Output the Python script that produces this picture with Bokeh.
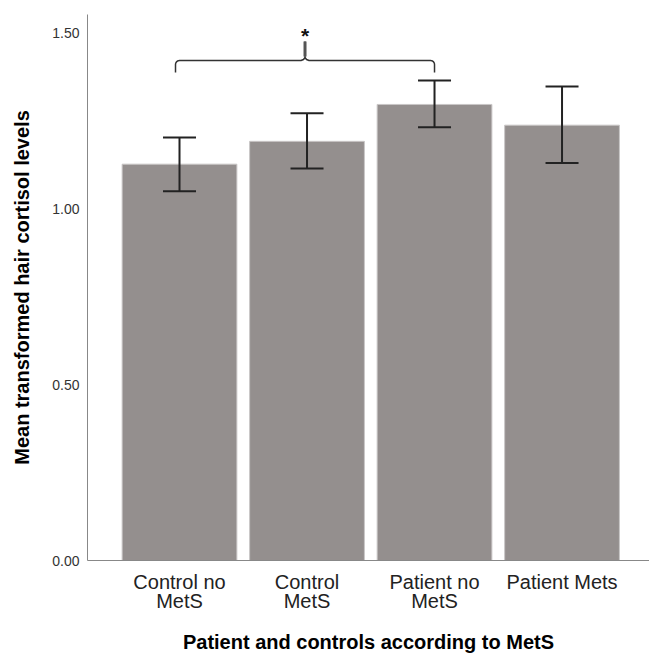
from bokeh.plotting import figure
from bokeh.models import Range1d, FixedTicker, Whisker, ColumnDataSource, TeeHead
from bokeh.embed import file_html
from bokeh.resources import INLINE

# Group means of transformed hair cortisol with 95% CI limits
groups = ["Control no\nMetS", "Control\nMetS", "Patient no\nMetS", "Patient Mets"]
means = [1.128, 1.193, 1.298, 1.239]
ci_lower = [1.051, 1.116, 1.233, 1.131]
ci_upper = [1.204, 1.273, 1.366, 1.349]

y_ticks = [0.0, 0.5, 1.0, 1.5]
y_tick_labels = ["0.00", "0.50", "1.00", "1.50"]

# significant comparison (group indices) and its marker
sig_pair = (0, 2)
sig_mark = "*"

FONT = "Liberation Sans"
BAR_COLOR = "#948f8e"

xpos = [i + 0.5 for i in range(len(groups))]

p = figure(width=649, height=655, output_backend="svg", toolbar_location=None,
           x_range=Range1d(-0.2216, 4.186), y_range=Range1d(0, 1.554),
           min_border_left=87, min_border_right=0, min_border_top=14,
           min_border_bottom=94)
p.outline_line_color = None
p.xgrid.visible = False
p.ygrid.visible = False
p.background_fill_color = "white"
p.border_fill_color = "white"

src = ColumnDataSource(dict(x=xpos, top=means, lower=ci_lower, upper=ci_upper))

p.vbar(x="x", top="top", bottom=0, width=0.9, source=src,
       fill_color=BAR_COLOR, line_color="#c9c6c6", line_width=1)

err_color = "#222222"
p.add_layout(Whisker(base="x", lower="lower", upper="upper", source=src,
                     level="overlay", line_color=err_color, line_width=2,
                     upper_head=TeeHead(size=33, line_color=err_color, line_width=2),
                     lower_head=TeeHead(size=33, line_color=err_color, line_width=2)))

# curly bracket over the compared groups
px_x = 1 / 127.5   # data units per pixel, horizontal
px_y = 1 / 352.0   # data units per pixel, vertical
x0 = xpos[sig_pair[0]] - 4 * px_x
x1 = xpos[sig_pair[1]]
xc = (x0 + x1) / 2
top_ci = max(ci_upper[sig_pair[0]:sig_pair[1] + 1])
y_line = top_ci + 0.057
y_end = y_line - 12 * px_y
y_nub = y_line + 19 * px_y
r = 4  # corner radius in pixels


def corner(cx, cy, sx, sy, n=6):
    # quarter-round from vertical to horizontal around (cx, cy)
    import math
    pts = []
    for k in range(n + 1):
        t = k / n * (math.pi / 2)
        pts.append((cx + sx * r * (1 - math.cos(t)) * px_x,
                    cy + sy * r * (1 - math.sin(t)) * px_y))
    return pts


left_corner = corner(x0, y_line, 1, -1)
right_corner = corner(x1, y_line, -1, -1)[::-1]
nub_in = [(xc - r * px_x, y_line), (xc - 1.5 * px_x, y_line + 1 * px_y),
          (xc, y_line + 3 * px_y), (xc, y_nub)]
nub_out = [(xc, y_nub), (xc, y_line + 3 * px_y), (xc + 1.5 * px_x, y_line + 1 * px_y),
           (xc + r * px_x, y_line)]

path = [(x0, y_end)] + left_corner + nub_in + nub_out + right_corner + [(x1, y_end)]
p.line([q[0] for q in path], [q[1] for q in path], line_color="#333333", line_width=1.5)
p.line([xc, xc], [y_line + 4 * px_y, y_nub], line_color="#555555", line_width=3)

p.text(x=[xc], y=[y_nub - 5 * px_y], text=[sig_mark], text_align="center",
       text_baseline="bottom", text_font_size="21px", text_font_style="bold",
       text_color="#111111", text_font={"value": FONT})

# axes
p.yaxis.ticker = FixedTicker(ticks=y_ticks)
p.yaxis.major_label_overrides = {t: l for t, l in zip(y_ticks, y_tick_labels)}
p.xaxis.ticker = FixedTicker(ticks=xpos)
p.xaxis.major_label_overrides = {t: g for t, g in zip(xpos, groups)}

for ax in (p.xaxis[0], p.yaxis[0]):
    ax.axis_line_color = "#888888"
    ax.axis_line_width = 1
    ax.major_tick_line_color = None
    ax.minor_tick_line_color = None
    ax.major_tick_out = 0
    ax.major_tick_in = 0
    ax.major_label_text_font = FONT
    ax.axis_label_text_font = FONT
    ax.axis_label_text_font_style = "bold"
    ax.axis_label_text_font_size = "20px"
    ax.axis_label_text_color = "#000000"

p.yaxis.major_label_text_font_size = "14px"
p.yaxis.major_label_text_color = "#333333"
p.yaxis.major_label_standoff = 8
p.yaxis.axis_label = "Mean transformed hair cortisol levels"
p.yaxis.axis_label_standoff = 16

p.xaxis.major_label_text_font_size = "20px"
p.xaxis.major_label_text_line_height = 0.88
p.xaxis.major_label_text_color = "#222222"
p.xaxis.major_label_standoff = 10
p.xaxis.axis_label = "Patient and controls according to MetS"
p.xaxis.axis_label_standoff = 16

open("out.html", "w").write(file_html(p, INLINE))
